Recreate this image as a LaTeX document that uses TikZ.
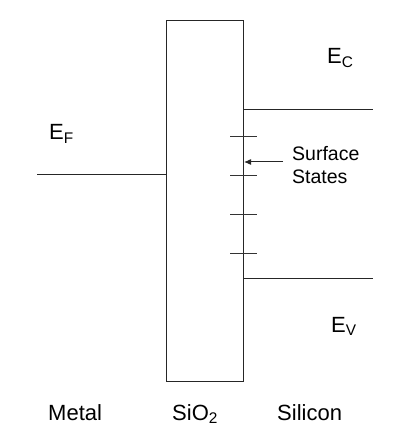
\documentclass[tikz,border=0pt]{standalone}
\usepackage{fontspec}
\setmainfont{Liberation Sans}
\usetikzlibrary{arrows.meta}
\begin{document}
\begin{tikzpicture}[x=1pt,y=-1pt,
  ln/.style={line width=1pt, draw=black!85},
  lbl/.style={inner sep=0pt, anchor=base west, font=\fontsize{22}{24}\selectfont},
  tick/.style={line width=1pt, draw=black!80}]
\useasboundingbox (0,0) rectangle (418,446);
\node[ln, draw, minimum width=77pt, minimum height=361pt, inner sep=0pt, anchor=north west] (box) at (166,20) {};
\coordinate (mL) at (37,175);
\coordinate (mR) at (box.west |- mL);
\draw[ln] (mL) -- (mR);
\coordinate (cL) at (243,110);
\coordinate (cR) at (373,110);
\draw[ln] (cL) -- (cR);
\coordinate (vL) at (243,278);
\coordinate (vR) at (373,278);
\draw[ln] (vL) -- (vR);
\foreach \i/\y in {1/137,2/176,3/214,4/253} {
  \coordinate (t\i a) at (230,\y);
  \coordinate (t\i b) at (257,\y);
  \draw[tick] (t\i a) -- (t\i b);
}
\node[lbl] (ef) at (49,140) {E\textsubscript{F}};
\node[lbl] (ec) at (327,64) {E\textsubscript{C}};
\node[lbl] (ev) at (331,332) {E\textsubscript{V}};
\node[inner sep=0pt, anchor=north west, align=left, font=\fontsize{19.5}{23}\selectfont] (ss) at (292,146) {Surface\\States};
\coordinate (as) at (283,162);
\coordinate (ae) at (244,162);
\draw[ln, -{Latex[length=7pt,width=6pt]}] (as) -- (ae);
\node[lbl] (metal) at (48,420) {Metal};
\node[lbl] (sio) at (172,420) {SiO\textsubscript{2}};
\node[lbl] (si) at (277,420) {Silicon};
\end{tikzpicture}
\end{document}
